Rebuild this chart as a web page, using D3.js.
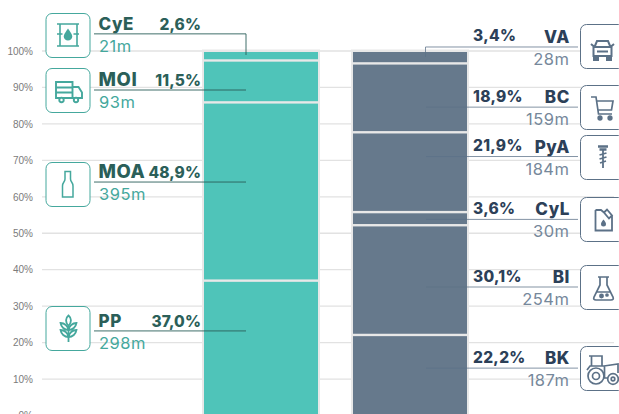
<!DOCTYPE html>
<html><head><meta charset="utf-8">
<script src="https://cdn.jsdelivr.net/npm/d3@7/dist/d3.min.js"></script>
<style>html,body{margin:0;padding:0;background:#fff;overflow:hidden}svg{display:block}
text{font-family:Inter,"Open Sans",sans-serif}</style></head><body>
<svg id="c" width="619" height="414"></svg>
<script>
// --- data
const ticks = [0,10,20,30,40,50,60,70,80,90,100];
const leftNames  = ["CyE","MOI","MOA","PP"];
const leftShares = [2.6,11.5,48.9,37.0];
const leftValues = ["21m","93m","395m","298m"];
const rightNames  = ["VA","BC","PyA","CyL","BI","BK"];
const rightShares = [3.4,18.9,21.9,3.6,30.1,22.2];
const rightValues = ["28m","159m","184m","30m","254m","187m"];

// --- layout of callouts (percent position of leader line on the y axis)
const leftLeader  = [104.7,89.3,64.05,23.2];
const rightLeader = [101.1,84.6,71.05,53.8,35.25,13];
const leftBox  = [13,68,162,306];
const rightBox = [24,85,135,197,265,346];

const C = {teal:"#4fc4b9",tealLine:"#2a5f5a",tealName:"#2b5f59",tealVal:"#45a89d",
           slate:"#66798c",slateLine:"#5c7187",slateName:"#2c4058",slateVal:"#76889b",
           grid:"#e2e2e2",tick:"#7b7b7b"};

const svg = d3.select("#c");
const y = d3.scaleLinear().domain([0,100]).range([415.5,51]);
const fmt = v => v.toFixed(1).replace(".",",")+"%";

// grid + ticks
svg.append("g").selectAll("line").data(ticks).join("line")
  .attr("x1",42).attr("x2",614).attr("y1",d=>y(d)).attr("y2",d=>y(d))
  .attr("stroke",C.grid).attr("stroke-width",1.3);
const ax = d3.axisLeft(y).tickValues(ticks).tickFormat(d=>d+"%").tickSize(0).tickPadding(0);
const gAx = svg.append("g").attr("transform","translate(33,0)").call(ax);
gAx.select(".domain").remove();
gAx.selectAll("text").attr("fill",C.tick).style("font-family","'Liberation Sans',sans-serif").style("font-size","10px");

function stack(shares,x0,w,fill){
  let top=100;
  const g=svg.append("g");
  g.append("rect").attr("x",x0-2).attr("y",y(100)-1.5).attr("width",w+4).attr("height",380).attr("fill","#e8e8e8");
  shares.forEach((s,i)=>{
    const a=y(top),b=y(top-s);
    g.append("rect").attr("x",x0).attr("width",w)
      .attr("y",a+(i?1.2:1)).attr("height",b-a-(i?2.4:2.2)+(i==shares.length-1?30:0)).attr("fill",fill);
    top-=s;
  });
}
stack(leftShares,204,114,C.teal);
stack(rightShares,353,114,C.slate);

const icons={
 CyE:g=>{g.attr("stroke-width",1.6);
   g.append("path").attr("d","M11.500 11H33.500M11.500 33H33.500M14.500 11V33M31.500 11V33M11.500 21H17M28 21H33.500");
   g.append("path").attr("d","M22.500 17C24.500 19.800 26 21.400 26 23.300A3.500 3.500 0 0 1 19 23.300C19 21.400 20.500 19.800 22.500 17Z").attr("class","solid");},
 MOI:g=>{g.attr("stroke-width",1.9);
   g.append("path").attr("d","M10.500 14H27V30H10.500ZM10.500 19.500H27M10.500 24.500H27M27 19H33L36.500 24.500V30H27");
   g.append("circle").attr("cx",16).attr("cy",32).attr("r",2.200).attr("fill","#fff");
   g.append("circle").attr("cx",30.500).attr("cy",32).attr("r",2.200).attr("fill","#fff");},
 MOA:g=>{g.attr("stroke-width",1.5);
   g.append("path").attr("d","M19.500 9.500H25V17C25 20 27.500 20 27.500 24V35H17V24C17 20 19.500 20 19.500 17Z");},
 PP:g=>{g.attr("stroke-width",1.8);
   g.append("path").attr("d","M23 9.500C26 12 26.500 16 23 20C19.500 16 20 12 23 9.500ZM23 20V36");
   g.append("path").attr("d","M15 17C19 17 22.500 20 23 24C19 24 15.500 21 15 17ZM31 17C27 17 23.500 20 23 24C27 24 30.500 21 31 17ZM15 24C19 24 22.500 27 23 31C19 31 15.500 28 15 24ZM31 24C27 24 23.500 27 23 31C27 31 30.500 28 31 24Z");},
 VA:g=>{g.attr("stroke-width",2);
   g.append("path").attr("d","M14.500 23L17 17H28L30.500 23M11 20L14.500 23M34 20L30.500 23M13.500 23H31.500V32H13.500ZM17 27.500H28");
   g.append("path").attr("d","M14 32H18V36H14ZM27 32H31V36H27Z").attr("class","solid");},
 BC:g=>{g.attr("stroke-width",1.7);
   g.append("path").attr("d","M11 12H16L18.500 29H32M17 16H33L31.500 25H18");
   g.append("circle").attr("cx",20).attr("cy",33).attr("r",1.800).attr("class","solid");
   g.append("circle").attr("cx",30).attr("cy",33).attr("r",1.800).attr("class","solid");},
 PyA:g=>{g.attr("stroke-width",1.8);
   g.append("path").attr("d","M18 11.500H28M19.500 14.500H26.500").attr("stroke-width",2.600);
   g.append("path").attr("d","M23 14V33M19.500 20L26.500 18M19.500 24L26.500 22M20 28L26 26");},
 CyL:g=>{g.attr("stroke-width",1.8);
   g.append("path").attr("d","M15.500 13V33.500H32V18.500M15.500 13H21L24 15.500M24 15.500L27 12.500L32 18.500L29 21.500Z");
   g.append("path").attr("d","M23.500 22.500C25 24.500 26 25.500 26 27A2.500 2.500 0 0 1 21 27C21 25.500 22 24.500 23.500 22.500Z").attr("class","solid").attr("stroke","none");},
 BI:g=>{g.attr("stroke-width",1.7);
   g.append("path").attr("d","M18 12H29M20 12V20L14 32C13.200 34 14 35 16 35H31C33 35 33.800 34 33 32L27 20V12M17 27H30");
   g.append("circle").attr("cx",21.500).attr("cy",31).attr("r",1.600).attr("class","solid");
   g.append("circle").attr("cx",27).attr("cy",30).attr("r",1).attr("class","solid");},
 BK:g=>{g.attr("stroke-width",1.7);
   g.append("path").attr("d","M9 10H22V20M11.500 10V20M7 24L10 20H24L38 18V27M24.500 20V32H28");
   g.append("circle").attr("cx",16).attr("cy",30).attr("r",8).attr("fill","#fff");
   g.append("circle").attr("cx",16).attr("cy",30).attr("r",3.500);
   g.append("circle").attr("cx",33).attr("cy",33).attr("r",5.300).attr("fill","#fff");
   g.append("circle").attr("cx",33).attr("cy",33).attr("r",1.800);}
};
function iconBox(name,x,yy,stroke){
  const g=svg.append("g").attr("transform",`translate(${x},${yy})`);
  g.append("rect").attr("x",.5).attr("y",.5).attr("width",44).attr("height",44).attr("rx",6)
    .attr("fill","#fff").attr("stroke",stroke).attr("stroke-width",1);
  const ic=g.append("g").attr("fill","none").attr("stroke",stroke);
  icons[name](ic);
  ic.selectAll(".solid").attr("fill",stroke);
}

// left callouts
const nameSize=[17,18.5,18.5,17];
leftNames.forEach((n,i)=>{
  const ly=y(leftLeader[i]);
  iconBox(n,45.5,leftBox[i],C.tealVal);
  const p = i==0 ? `M94 ${ly}H246V55` : `M94 ${ly}H246`;
  svg.append("path").attr("d",p).attr("fill","none").attr("stroke",C.tealLine).attr("stroke-width",.9);
  svg.append("text").attr("x",98.500).attr("y",ly-4).attr("fill",C.tealName)
    .attr("font-size",nameSize[i]).attr("font-weight",800).attr("letter-spacing",.6).text(n);
  svg.append("text").attr("x",201).attr("y",ly-4).attr("text-anchor","end").attr("fill",C.tealName)
    .attr("font-size",15.5).attr("font-weight",800).attr("letter-spacing",.1).text(fmt(leftShares[i]));
  svg.append("text").attr("x",99).attr("y",ly+18).attr("fill",C.tealVal)
    .attr("font-size",16.500).attr("font-weight",400).attr("letter-spacing",.5).text(leftValues[i]);
});

// right callouts
rightNames.forEach((n,i)=>{
  const ly=y(rightLeader[i]);
  iconBox(n,580,rightBox[i],C.slateLine);
  const p = i==0 ? `M578 ${ly}H425.500V57` : `M578 ${ly}H426`;
  svg.append("path").attr("d",p).attr("fill","none").attr("stroke",C.slateLine).attr("stroke-width",.9).attr("stroke-opacity",.85);
  svg.append("text").attr("x",473).attr("y",ly-5.500).attr("fill",C.slateName)
    .attr("font-size",15.5).attr("font-weight",800).attr("letter-spacing",.3).text(fmt(rightShares[i]));
  svg.append("text").attr("x",570).attr("y",ly-4).attr("text-anchor","end").attr("fill",C.slateName)
    .attr("font-size",17).attr("font-weight",800).attr("letter-spacing",.6).text(n);
  svg.append("text").attr("x",569.500).attr("y",ly+18).attr("text-anchor","end").attr("fill",C.slateVal)
    .attr("font-size",16.500).attr("font-weight",400).attr("letter-spacing",.5).text(rightValues[i]);
});
</script></body></html>
